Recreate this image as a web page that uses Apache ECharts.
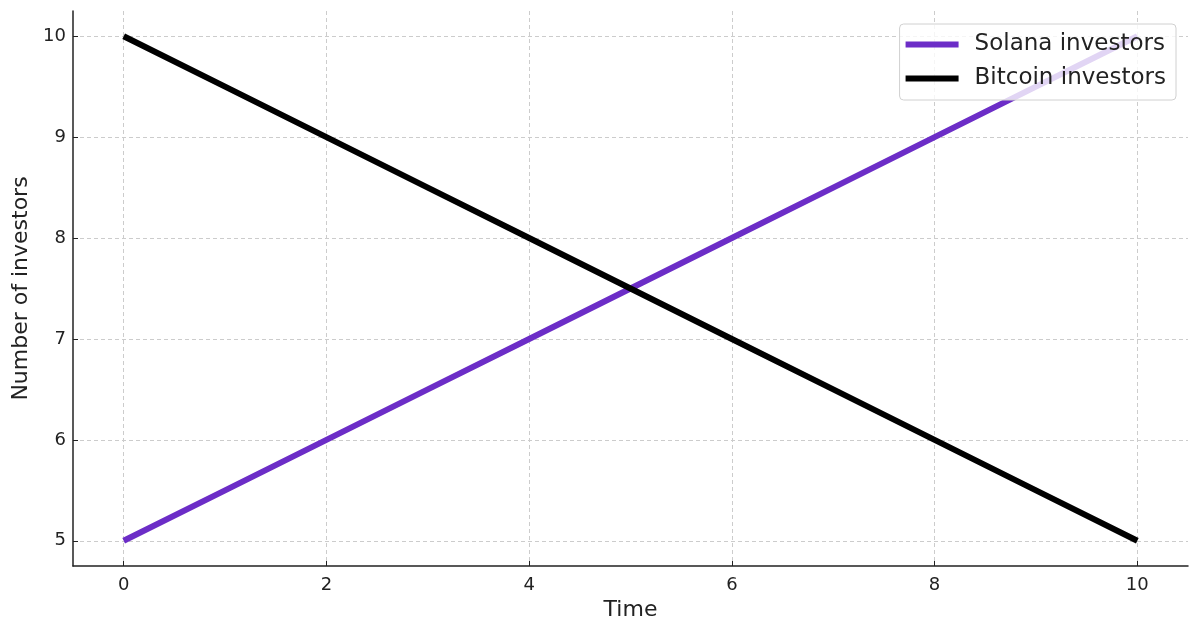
<!DOCTYPE html>
<html>
<head>
<meta charset="utf-8">
<script src="https://cdn.jsdelivr.net/npm/echarts@6/dist/echarts.min.js"></script>
<style>
  html, body { margin: 0; padding: 0; background: #fff; }
  #chart { width: 1200px; height: 633px; }
</style>
</head>
<body>
<div id="chart"></div>
<script>
var timeValues = [0, 1, 2, 3, 4, 5, 6, 7, 8, 9, 10];
var solanaValues = [5, 5.5, 6, 6.5, 7, 7.5, 8, 8.5, 9, 9.5, 10];
var bitcoinValues = [10, 9.5, 9, 8.5, 8, 7.5, 7, 6.5, 6, 5.5, 5];
var xTicks = [0, 2, 4, 6, 8, 10];
var yTicks = [5, 6, 7, 8, 9, 10];

var font = 'DejaVu Sans';
var ink = '#222222';
var gridColor = '#cccccc';

function pairs(xs, ys) {
    return xs.map(function(x, i) { return [x, ys[i]]; });
}

var chart = echarts.init(document.getElementById('chart'), null, { renderer: 'canvas' });

chart.setOption({
    animation: false,
    textStyle: { fontFamily: font },
    grid: { left: 73, right: 12, top: 11, bottom: 67, containLabel: false, outerBoundsMode: 'none' },
    legend: {
        data: ['Solana investors', 'Bitcoin investors'],
        orient: 'vertical',
        right: 24,
        top: 24,
        icon: 'rect',
        itemWidth: 53,
        itemHeight: 6,
        itemGap: 11,
        padding: [9, 10, 10, 6],
        backgroundColor: 'rgba(255,255,255,0.8)',
        borderColor: '#d0d0d0',
        borderWidth: 1,
        borderRadius: 4,
        textStyle: { fontFamily: font, fontSize: 23, color: ink, padding: [0, 0, 0, 11] }
    },
    xAxis: {
        type: 'value',
        min: -0.5,
        max: 10.5,
        name: 'Time',
        nameLocation: 'middle',
        nameGap: 31,
        nameTextStyle: { fontFamily: font, fontSize: 22, color: ink },
        axisLine: { show: true, onZero: false, lineStyle: { color: ink, width: 1.5 } },
        axisTick: { show: true, inside: true, length: 5, customValues: xTicks, lineStyle: { color: ink } },
        axisLabel: { fontFamily: font, fontSize: 18, color: ink, margin: 10, customValues: xTicks },
        splitLine: { show: true, lineStyle: { color: gridColor, type: [4, 3], width: 1 } }
    },
    yAxis: {
        type: 'value',
        min: 4.75,
        max: 10.25,
        name: 'Number of investors',
        nameLocation: 'middle',
        nameGap: 40,
        nameTextStyle: { fontFamily: font, fontSize: 22, color: ink },
        axisLine: { show: true, onZero: false, lineStyle: { color: ink, width: 1.5 } },
        axisTick: { show: true, inside: true, length: 5, customValues: yTicks, lineStyle: { color: ink } },
        axisLabel: { fontFamily: font, fontSize: 18, color: ink, margin: 7, customValues: yTicks },
        splitLine: { show: true, lineStyle: { color: gridColor, type: [4, 3], width: 1 } }
    },
    series: [
        {
            name: 'Solana investors',
            type: 'line',
            data: pairs(timeValues, solanaValues),
            showSymbol: false,
            itemStyle: { color: '#6c2dc7' },
            lineStyle: { color: '#6c2dc7', width: 6 },
            z: 2
        },
        {
            name: 'Bitcoin investors',
            type: 'line',
            data: pairs(timeValues, bitcoinValues),
            showSymbol: false,
            itemStyle: { color: '#000000' },
            lineStyle: { color: '#000000', width: 6 },
            z: 3
        }
    ]
});
window.addEventListener('resize', function() { chart.resize(); });
</script>
</body>
</html>
